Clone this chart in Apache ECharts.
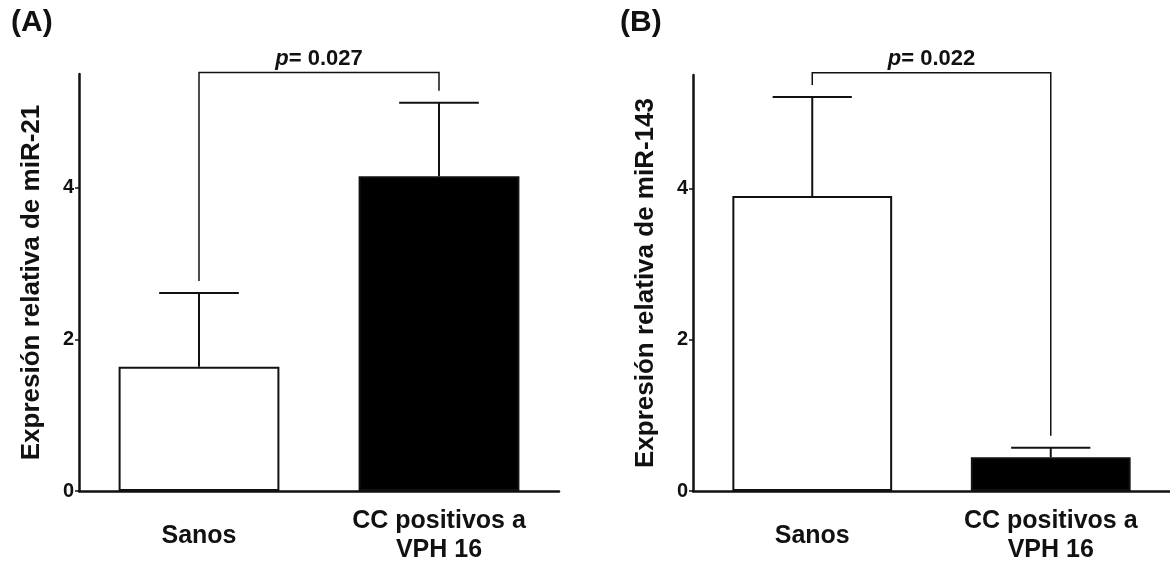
<!DOCTYPE html>
<html>
<head>
<meta charset="utf-8">
<script src="https://cdn.jsdelivr.net/npm/echarts@6/dist/echarts.min.js"></script>
<style>
  html, body { margin: 0; padding: 0; background: #fff; }
  #chart { width: 1170px; height: 565px; }
</style>
</head>
<body>
<div id="chart"></div>
<script>
// data
var categories = ['Sanos', 'CC positivos a\nVPH 16'];
var mir21Mean = [1.64, 4.15];
var mir21Sem = [0.97, 0.97];
var mir143Mean = [3.90, 0.445];
var mir143Sem = [1.31, 0.126];
var pValues = ['0.027', '0.022'];
var bracketLevel = [5.52, 5.53];
var yTicks = [0, 2, 4];
var yTitles = ['Expresión relativa de miR-21', 'Expresión relativa de miR-143'];
var panelTags = ['(A)', '(B)'];
var barColors = ['#ffffff', '#000000'];

var FONT = '"Liberation Sans", Arial, sans-serif';
var INK = '#111';

var Panel = {
    grids: [
        {left: 79, width: 480, top: 74, bottom: 70},
        {left: 693, width: 482, top: 75, bottom: 67}
    ],
    errorItem: function(params, api) {
        var a = api.coord([api.value(0), api.value(1)]);
        var b = api.coord([api.value(0), api.value(2)]);
        var half = api.size([1, 0])[0] * 0.166;
        var st = {stroke: INK, lineWidth: 2};
        return {type: 'group', children: [
            {type: 'line', shape: {x1: a[0], y1: a[1], x2: b[0], y2: b[1]}, style: st},
            {type: 'line', shape: {x1: b[0] - half, y1: b[1], x2: b[0] + half, y2: b[1]}, style: st}
        ]};
    },
    bracketItem: function(pText) {
        return function(params, api) {
            var lvl = api.value(2);
            var l = api.coord([0, lvl]), r = api.coord([1, lvl]);
            var e0 = api.coord([0, api.value(3)])[1] - 12;
            var e1 = api.coord([1, api.value(4)])[1] - 12;
            return {type: 'group', children: [
                {type: 'polyline',
                 shape: {points: [[l[0], e0], [l[0], l[1]], [r[0], r[1]], [r[0], e1]]},
                 style: {stroke: INK, lineWidth: 1.5, fill: null}},
                {type: 'text', x: (l[0] + r[0]) / 2, y: l[1] - 3,
                 style: {text: '{i|p}= ' + pText, align: 'center', verticalAlign: 'bottom',
                         fill: INK, font: 'bold 22px ' + FONT,
                         rich: {i: {fontStyle: 'italic', fontWeight: 'bold', fontSize: 22, fontFamily: FONT, fill: INK}}}}
            ]};
        };
    },
    build: function() {
        var option = {
            backgroundColor: '#fff',
            animation: false,
            title: [],
            grid: Panel.grids,
            xAxis: [],
            yAxis: [],
            series: []
        };
        var means = [mir21Mean, mir143Mean];
        var sems = [mir21Sem, mir143Sem];
        var tagLeft = [11, 620];
        for (var i = 0; i < 2; i++) {
            option.title.push({
                text: panelTags[i], left: tagLeft[i], top: 8, padding: 0,
                textStyle: {fontFamily: FONT, fontSize: 30, fontWeight: 'bold', color: INK}
            });
            option.xAxis.push({
                type: 'category', gridIndex: i, data: categories,
                axisLine: {lineStyle: {color: INK, width: 2.5}},
                axisTick: {alignWithLabel: true, length: 4, lineStyle: {color: INK, width: 2}},
                axisLabel: {fontFamily: FONT, fontSize: 25, fontWeight: 'bold', color: INK,
                            margin: 45, lineHeight: 29, verticalAlign: 'middle', interval: 0}
            });
            option.yAxis.push({
                type: 'value', gridIndex: i, min: 0, max: 5.5, interval: 2,
                splitLine: {show: false},
                axisLine: {show: true, lineStyle: {color: INK, width: 2.5}},
                axisTick: {show: true, length: 4, customValues: yTicks, lineStyle: {color: INK, width: 1.5}},
                axisLabel: {customValues: yTicks, fontFamily: FONT, fontSize: 20, fontWeight: 'bold',
                            color: INK, margin: 5},
                name: yTitles[i], nameLocation: 'middle', nameRotate: 90, nameGap: 34,
                nameTextStyle: {fontFamily: FONT, fontSize: 26, fontWeight: 'bold', color: INK}
            });
            var barData = means[i].map(function(v, k) {
                return {value: v, itemStyle: {color: barColors[k], borderColor: INK, borderWidth: 2}};
            });
            option.series.push({
                type: 'bar', xAxisIndex: i, yAxisIndex: i, barWidth: '67%',
                data: barData, silent: true
            });
            var errData = means[i].map(function(v, k) { return [k, v, v + sems[i][k]]; });
            option.series.push({
                type: 'custom', xAxisIndex: i, yAxisIndex: i, z: 5,
                renderItem: Panel.errorItem, data: errData, silent: true
            });
            option.series.push({
                type: 'custom', xAxisIndex: i, yAxisIndex: i, z: 5, clip: false,
                renderItem: Panel.bracketItem(pValues[i]),
                data: [[0, 1, bracketLevel[i], errData[0][2], errData[1][2]]], silent: true
            });
        }
        return option;
    }
};

var myChart = echarts.init(document.getElementById('chart'), null, {renderer: 'canvas'});
myChart.setOption(Panel.build());
</script>
</body>
</html>
